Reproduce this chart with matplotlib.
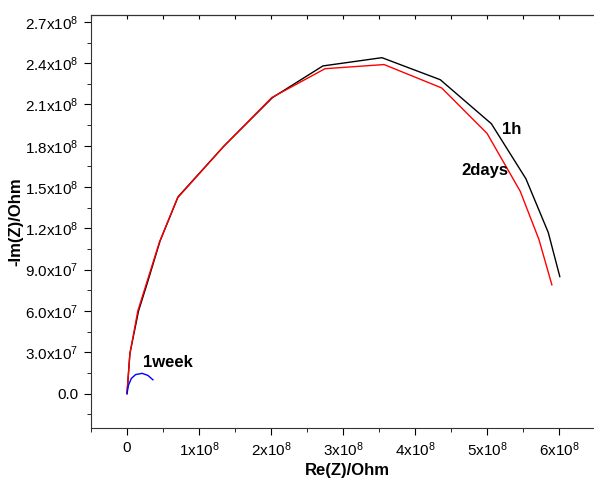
import numpy as np
import matplotlib
matplotlib.use('Agg')
import matplotlib.pyplot as plt
from matplotlib.ticker import MultipleLocator, FuncFormatter

plt.rcParams['font.family'] = ['Liberation Sans', 'DejaVu Sans']
plt.rcParams['mathtext.fontset'] = 'custom'
plt.rcParams['mathtext.rm'] = 'Liberation Sans'
plt.rcParams['mathtext.it'] = 'Liberation Sans'

# Nyquist data, Re(Z) and -Im(Z) in Ohm
re_1h = [0.0, 0.04e8, 0.16e8, 0.28e8, 0.46e8, 0.71e8, 1.35e8, 2.02e8, 2.72e8,
         3.54e8, 4.35e8, 5.06e8, 5.54e8, 5.85e8, 6.01e8]
im_1h = [0.0, 2.9e7, 6.0e7, 8.0e7, 1.11e8, 1.43e8, 1.80e8, 2.15e8, 2.38e8,
         2.44e8, 2.28e8, 1.96e8, 1.56e8, 1.17e8, 0.85e8]

re_2days = [0.0, 0.04e8, 0.15e8, 0.27e8, 0.45e8, 0.70e8, 1.35e8, 2.01e8, 2.75e8,
            3.57e8, 4.37e8, 5.00e8, 5.46e8, 5.72e8, 5.90e8]
im_2days = [0.0, 2.9e7, 6.0e7, 8.0e7, 1.10e8, 1.42e8, 1.80e8, 2.15e8, 2.36e8,
            2.39e8, 2.22e8, 1.89e8, 1.47e8, 1.12e8, 0.79e8]

re_1week = [0.0, 0.02e8, 0.06e8, 0.12e8, 0.21e8, 0.29e8, 0.36e8]
im_1week = [0.0, 0.6e7, 1.1e7, 1.38e7, 1.47e7, 1.32e7, 1.0e7]

fig = plt.figure(figsize=(5.94, 4.78), dpi=100)
ax = fig.add_axes([91 / 594, (478 - 428) / 478, 512 / 594, 413 / 478])

ax.plot(re_1h, im_1h, color='black', lw=1.0)
ax.plot(re_2days, im_2days, color='red', lw=1.0)
ax.plot(re_1week, im_1week, color='blue', lw=1.0)

ax.text(0.22e8, 2.25e7, '1week', fontsize=12, fontweight='bold', va='center')
ax.text(5.21e8, 1.92e8, '1h', fontsize=12, fontweight='bold', va='center')
ax.text(4.65e8, 1.62e8, '2days', fontsize=12, fontweight='bold', va='center')

ax.set_xlim(-0.5e8, 6.61e8)
ax.set_ylim(-2.5e7, 2.75e8)

ax.xaxis.set_major_locator(MultipleLocator(1e8))
ax.xaxis.set_minor_locator(MultipleLocator(0.5e8))
ax.yaxis.set_major_locator(MultipleLocator(3e7))
ax.yaxis.set_minor_locator(MultipleLocator(1.5e7))


def xfmt(v, pos):
    n = int(round(v / 1e8))
    if n == 0:
        return '0'
    return r'%dx10$^{8}$' % n


def yfmt(v, pos):
    if abs(v) < 1:
        return '0.0'
    if v >= 1e8:
        return r'%.1fx10$^{8}$' % (v / 1e8)
    return r'%.1fx10$^{7}$' % (v / 1e7)


ax.xaxis.set_major_formatter(FuncFormatter(xfmt))
ax.yaxis.set_major_formatter(FuncFormatter(yfmt))

ax.tick_params(which='both', direction='out', labelsize=11, top=False, right=False)
ax.tick_params(which='major', length=5, pad=4)
ax.tick_params(which='minor', length=3)

# inward ticks along the top frame
sec = ax.secondary_xaxis('top')
sec.xaxis.set_major_locator(MultipleLocator(0.5e8))
sec.tick_params(direction='in', length=3, labeltop=False)

for s in ax.spines.values():
    s.set_color('#333333')

ax.set_xlabel('Re(Z)/Ohm', fontsize=12, fontweight='bold', labelpad=3)
ax.set_ylabel('-Im(Z)/Ohm', fontsize=12, fontweight='bold', labelpad=1)

fig.savefig('out.png', dpi=100)
